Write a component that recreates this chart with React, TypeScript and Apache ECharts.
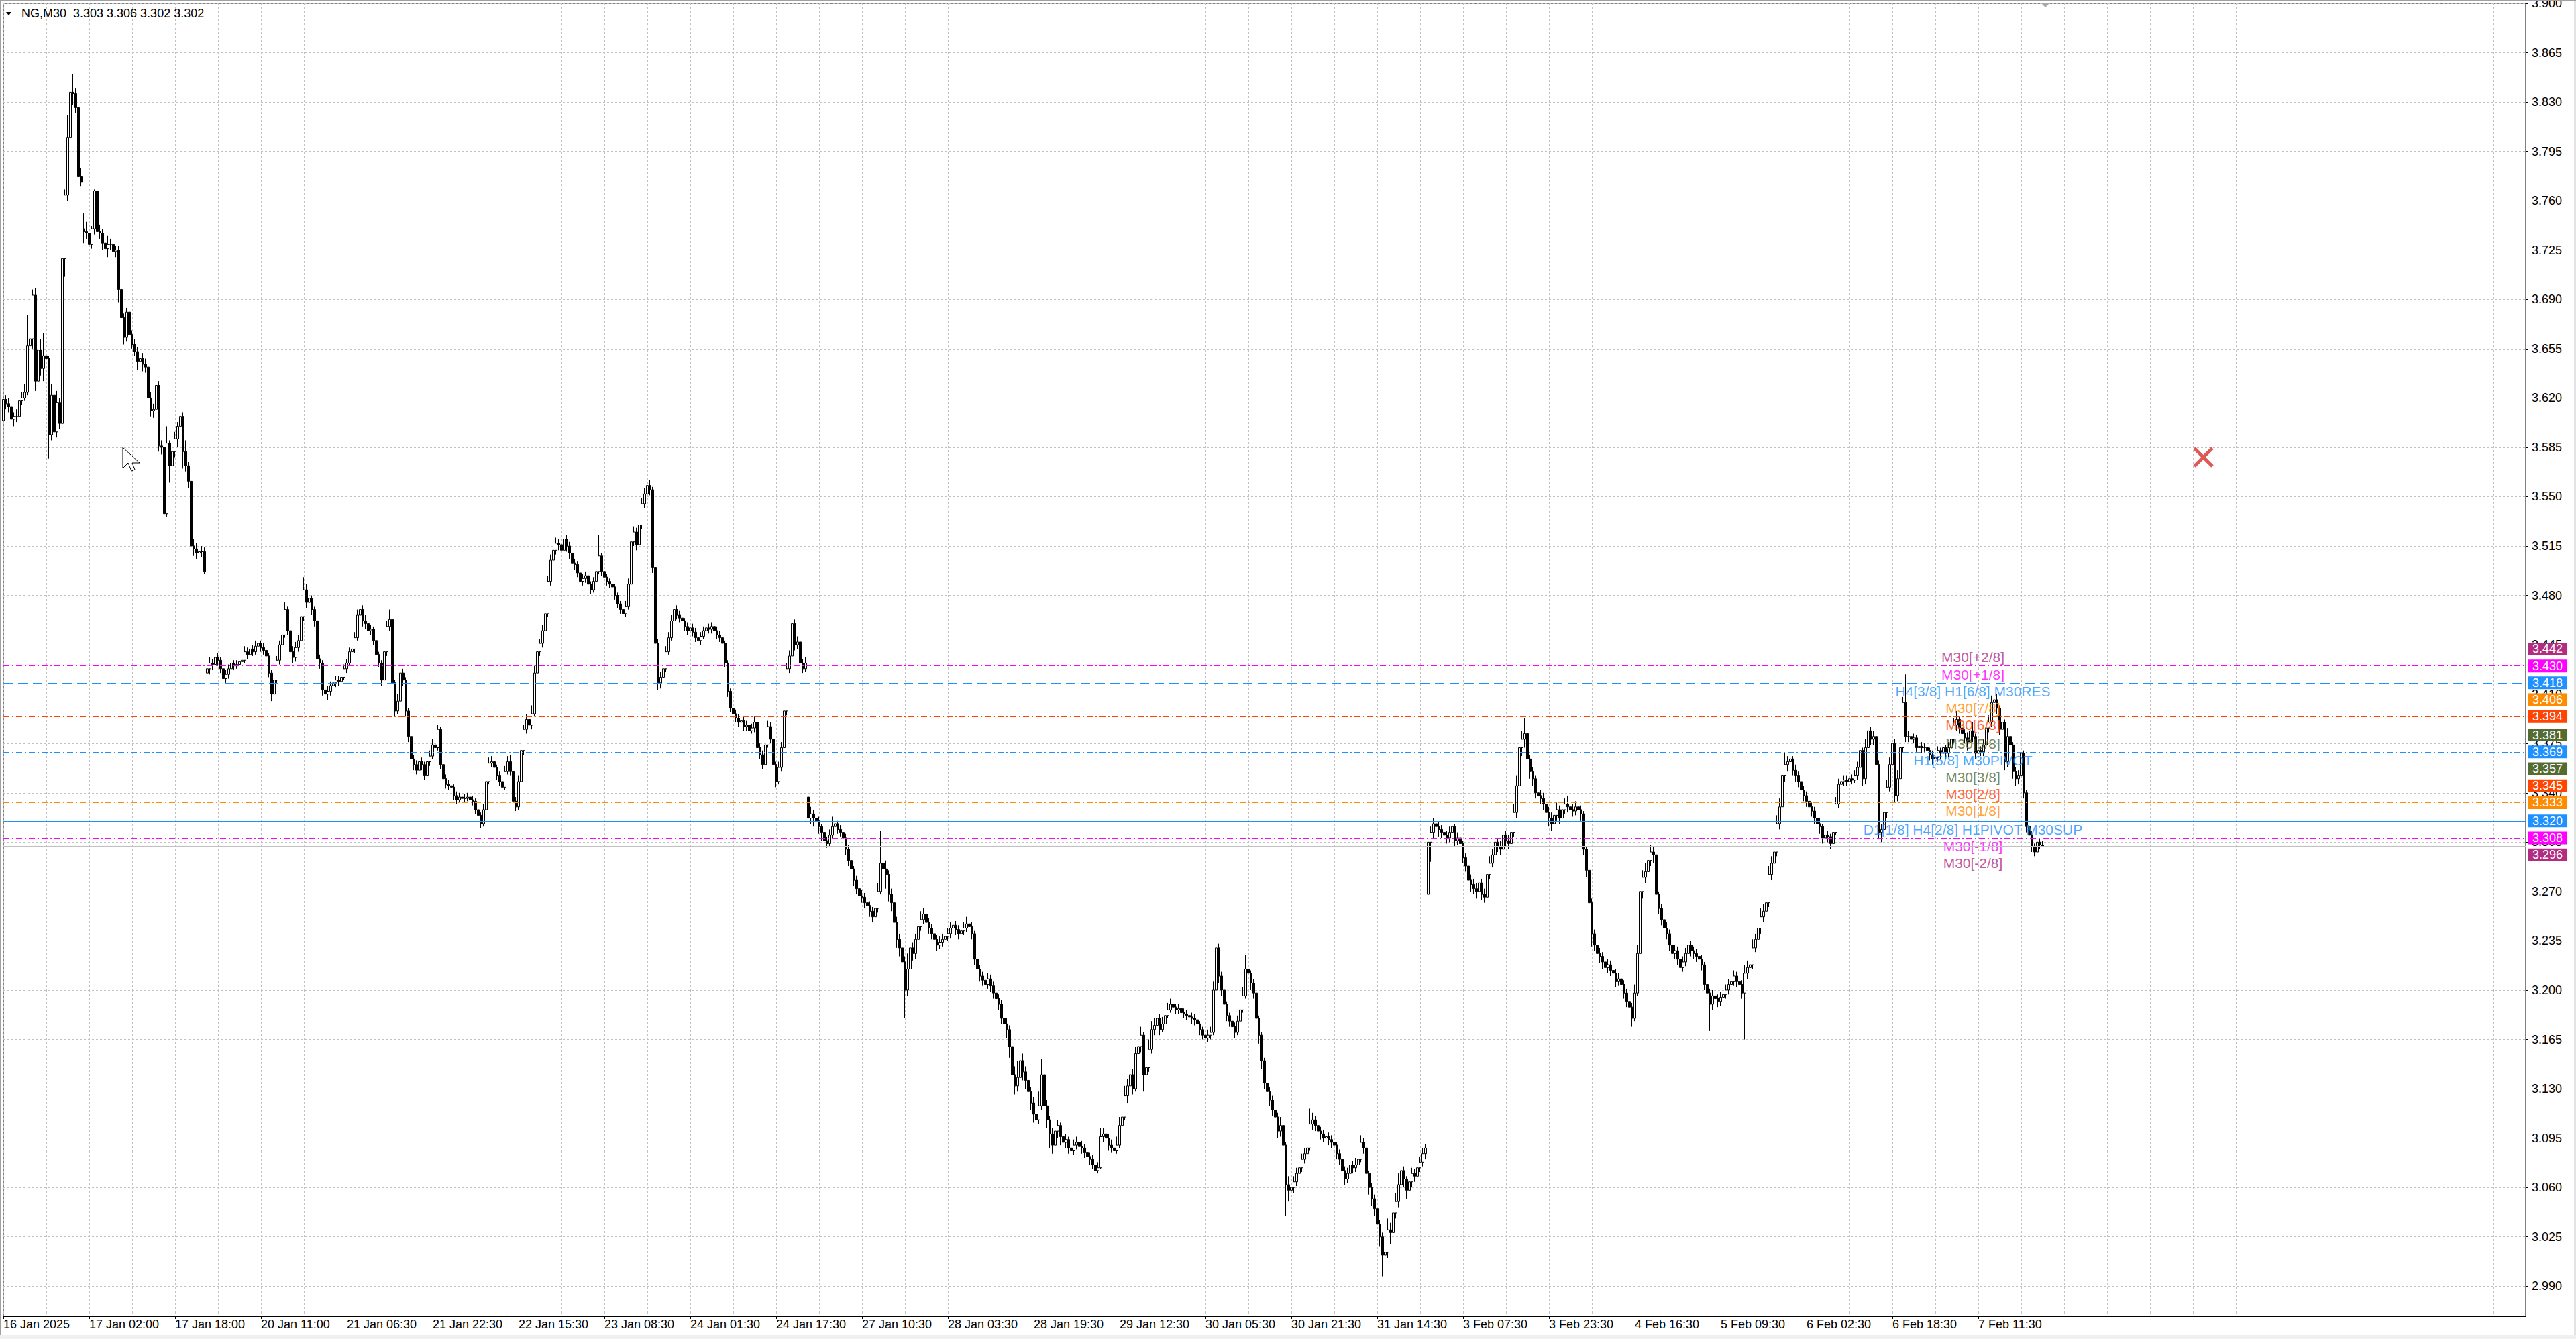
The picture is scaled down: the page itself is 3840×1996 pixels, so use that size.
import React, { useEffect, useRef } from 'react';
import * as echarts from 'echarts';

const FONT = '"Liberation Sans", Arial, sans-serif';

// ---------- header ----------
const headerSymbol = 'NG,M30';
const headerOHLC = [3.303, 3.306, 3.302, 3.302];

// ---------- axis texts ----------
const tickLabels = [
  '16 Jan 2025', '17 Jan 02:00', '17 Jan 18:00', '20 Jan 11:00', '21 Jan 06:30', '21 Jan 22:30',
  '22 Jan 15:30', '23 Jan 08:30', '24 Jan 01:30', '24 Jan 17:30', '27 Jan 10:30', '28 Jan 03:30',
  '28 Jan 19:30', '29 Jan 12:30', '30 Jan 05:30', '30 Jan 21:30', '31 Jan 14:30', '3 Feb 07:30',
  '3 Feb 23:30', '4 Feb 16:30', '5 Feb 09:30', '6 Feb 02:30', '6 Feb 18:30', '7 Feb 11:30',
];
const barsPerLabel = 32;
const barsPerGrid = 16;
const totalSlots = 941;

const yTicks = [
  2.990, 3.025, 3.060, 3.095, 3.130, 3.165, 3.200, 3.235, 3.270, 3.305, 3.340, 3.375, 3.410, 3.445,
  3.480, 3.515, 3.550, 3.585, 3.620, 3.655, 3.690, 3.725, 3.760, 3.795, 3.830, 3.865, 3.900,
];
const yMin = 2.9687;
const yMax = 3.9;

// ---------- Murrey levels ----------
const levelPrices = [3.442, 3.430, 3.418, 3.406, 3.394, 3.381, 3.369, 3.357, 3.345, 3.333, 3.320, 3.308, 3.296];
const levelNames = [
  'M30[+2/8]', 'M30[+1/8]', 'H4[3/8] H1[6/8] M30RES', 'M30[7/8]', 'M30[6/8]', 'M30[5/8]',
  'H1[5/8] M30PIVOT', 'M30[3/8]', 'M30[2/8]', 'M30[1/8]', 'D1[1/8] H4[2/8] H1PIVOT M30SUP',
  'M30[-1/8]', 'M30[-2/8]',
];
const levelColors = [
  '#B22C80', '#FF00FF', '#1E90FF', '#FF8C00', '#FF4500', '#556B2F', '#1E90FF',
  '#556B2F', '#FF4500', '#FF8C00', '#1E90FF', '#FF00FF', '#B22C80',
];
const levelStyles = [
  'dashdot', 'dashdot', 'dash', 'dashdot', 'dashdot', 'dashdot', 'dashdot',
  'dashdot', 'dashdot', 'dashdot', 'solid', 'dashdot', 'dashdot',
];
const levelLabelBar = 734;
const bidPrice = 3.302;

// ---------- candles (thousandths above 3.000) ----------
// first open of each session / gap bar: [barIndex, open]
const gapOpens = [[0, 604], [30, 740], [76, 425], [300, 337], [531, 268]];

const close1 = [
  619,616,614,605,607,607,618,620,624,657,
  662,693,632,654,641,650,648,594,622,596,
  617,602,719,764,805,837,836,826,777,773,
  738,737,729,740,767,738,737,730,726,729,
  729,724,725,697,677,663,681,665,658,653,
  646,648,644,642,620,611,612,629,586,585,
  538,588,572,582,591,600,607,582,572,561,
  515,513,510,511,511,497,
];
const high1 = [
  622,622,620,616,610,612,622,624,630,679,
  670,697,698,665,662,666,654,650,630,626,
  625,620,722,768,821,843,850,840,832,783,
  751,745,740,742,768,769,743,740,733,735,
  733,733,728,728,700,680,684,683,668,662,
  656,652,652,648,644,624,616,657,632,590,
  588,600,590,597,596,603,627,610,590,575,
  563,520,517,516,515,514,
];
const low1 = [
  600,612,610,602,600,603,605,615,618,622,
  650,655,625,628,636,632,640,577,590,592,
  592,598,600,706,760,797,828,822,774,770,
  730,733,726,726,736,735,733,725,722,720,
  725,720,720,688,672,658,660,660,655,650,
  640,643,639,638,615,607,606,608,582,580,
  532,536,560,570,578,585,596,570,568,556,
  510,508,506,506,507,495,
];

const close2 = [
  428,432,431,436,434,428,421,424,428,432,
  430,431,433,434,440,438,442,440,444,446,
  443,441,437,425,410,420,434,445,452,470,
  455,440,436,443,448,465,484,475,478,470,
  462,435,432,413,410,412,416,418,420,419,
  422,428,432,440,442,450,466,470,462,460,
  455,456,448,438,432,420,440,458,463,418,
  398,405,425,420,398,380,364,360,356,362,
  360,352,362,366,374,372,385,360,350,346,
  345,344,338,335,337,336,336,337,335,334,
  328,324,318,328,348,361,362,358,352,348,
  344,355,362,355,334,330,348,370,385,392,
  388,396,425,440,446,455,467,490,505,512,
  517,516,512,520,515,510,503,502,496,490,
  492,494,488,484,490,497,508,497,493,490,
  488,486,480,474,470,467,472,488,518,525,
  516,530,545,552,558,555,500,446,418,422,
  428,440,450,462,470,466,464,462,458,455,
  457,454,450,448,451,455,457,456,458,455,
  452,450,446,432,412,400,396,393,390,391,
  387,388,384,386,390,372,367,360,374,387,
  378,360,348,358,372,398,428,437,460,445,
  447,432,428,432,
];
const high2 = [
  432,436,435,440,439,436,430,427,431,435,
  434,434,437,438,444,443,446,445,448,450,
  448,446,443,439,427,424,437,448,456,475,
  472,457,444,447,452,470,493,488,482,480,
  472,464,438,434,416,416,419,421,423,423,
  425,431,435,443,446,454,470,476,473,466,
  463,459,458,450,440,434,444,462,470,465,
  420,410,430,428,422,400,382,367,363,366,
  365,362,365,370,378,377,388,387,362,353,
  349,348,346,341,340,339,339,340,339,338,
  336,331,326,332,352,365,366,364,360,355,
  351,359,366,367,357,337,352,374,388,396,
  395,402,430,444,449,459,471,494,509,516,
  521,520,519,525,523,518,512,506,504,498,
  495,497,496,490,493,500,523,510,499,495,
  492,490,488,482,476,472,476,492,522,529,
  528,534,549,556,578,562,557,503,449,426,
  432,444,454,466,474,473,469,467,464,461,
  460,460,457,453,454,458,460,460,461,461,
  458,455,452,448,434,414,403,399,396,394,
  394,391,391,389,394,392,375,370,378,391,
  390,380,362,362,376,402,432,441,468,463,
  451,449,435,436,
];
const low2 = [
  394,424,427,429,430,425,418,418,421,426,
  427,428,428,430,432,435,436,437,438,441,
  440,438,434,422,405,408,418,431,442,450,
  452,436,432,433,440,445,462,471,472,466,
  458,432,428,409,405,406,409,413,415,416,
  416,420,425,430,437,439,448,462,458,456,
  452,452,445,435,429,416,418,437,455,414,
  394,396,402,416,394,376,360,356,353,354,
  356,349,350,359,364,368,370,357,347,343,
  342,341,335,332,333,333,333,334,332,331,
  325,320,315,316,326,346,358,355,349,345,
  341,342,353,352,331,327,328,346,367,382,
  384,385,394,422,437,443,452,465,487,502,
  509,512,508,510,511,506,500,498,493,487,
  487,489,485,481,482,488,495,494,490,487,
  485,483,477,471,467,464,465,470,486,515,
  512,513,527,542,549,551,496,442,413,414,
  419,426,438,448,460,463,461,459,455,452,
  452,451,447,444,445,449,452,453,453,451,
  449,447,443,429,408,397,393,390,387,387,
  384,384,381,382,383,369,364,357,358,372,
  375,357,344,346,355,370,395,425,435,441,
  442,429,425,426,
];

const close3 = [
  322,325,322,320,316,312,306,304,310,316,
  318,314,312,308,300,292,286,278,272,267,
  266,262,260,256,252,258,270,290,286,282,
  268,262,248,236,230,220,200,215,230,226,
  236,245,250,254,248,244,240,236,232,234,
  236,238,240,244,246,243,240,242,244,247,
  245,240,222,215,210,207,204,208,203,198,
  194,190,180,176,172,160,140,132,138,150,
  142,136,128,120,112,108,118,140,118,108,
  98,90,100,104,96,92,94,88,86,90,
  92,89,88,85,82,80,76,72,74,96,
  98,95,90,88,86,90,104,110,125,132,
  140,130,155,160,168,140,145,158,172,175,
  180,172,176,182,186,190,188,186,187,184,
  183,182,181,180,179,176,172,168,166,168,
  170,200,230,210,200,190,182,178,174,170,
  178,186,196,215,212,205,198,180,168,150,
  134,128,122,115,110,100,104,90,62,58,
  60,64,70,74,80,84,88,105,108,104,
  100,98,95,96,94,92,90,84,80,72,
  66,70,76,74,76,80,92,88,70,60,
  52,45,34,25,12,14,30,28,42,50,
  62,72,66,58,64,70,68,74,78,84,
  88,
];
const high3 = [
  342,330,328,326,323,318,314,309,314,323,
  322,320,317,314,311,303,294,288,281,275,
  271,269,265,263,259,262,276,313,305,292,
  285,272,265,252,240,234,224,226,237,234,
  240,249,256,258,257,251,247,243,239,238,
  240,242,244,248,250,249,246,246,248,252,
  255,248,242,225,218,213,211,212,211,206,
  201,197,193,184,180,175,164,146,150,158,
  155,146,140,131,124,116,128,151,142,122,
  111,102,108,108,106,100,98,96,92,94,
  96,95,93,91,88,85,83,79,78,102,
  102,101,98,94,92,96,110,116,132,137,
  148,144,160,166,174,170,151,165,178,180,
  186,183,181,186,191,194,192,190,190,189,
  187,186,185,184,183,181,178,174,171,172,
  174,206,242,233,213,203,192,184,180,177,
  182,190,202,225,219,214,208,200,182,170,
  152,137,131,125,118,113,110,106,92,68,
  65,68,74,78,84,88,92,116,113,111,
  107,103,101,100,99,97,95,92,87,82,
  75,74,80,79,81,85,97,95,90,72,
  63,55,47,37,28,22,38,35,50,56,
  70,80,75,68,70,74,73,78,82,88,
  91,
];
const low3 = [
  300,318,316,314,311,306,302,301,302,308,
  312,311,309,304,296,288,282,274,268,263,
  262,258,256,252,248,249,255,268,280,272,
  263,256,244,230,224,210,180,196,212,221,
  222,233,242,247,244,240,236,232,228,229,
  231,233,235,237,241,239,236,237,239,241,
  241,236,218,211,206,203,200,201,199,194,
  190,186,176,172,166,152,125,126,128,134,
  136,130,124,115,106,104,105,115,112,102,
  88,84,87,95,90,88,88,84,82,83,
  87,85,84,81,78,76,73,70,70,73,
  92,90,86,85,82,84,88,100,108,120,
  128,126,128,150,156,128,136,142,155,168,
  171,168,170,174,180,184,185,183,183,181,
  180,179,178,176,175,172,168,165,163,163,
  165,168,197,205,196,186,178,174,170,166,
  168,176,184,194,206,200,194,175,162,144,
  130,124,118,111,105,95,96,85,40,50,
  54,56,61,66,71,77,80,86,101,100,
  96,94,92,92,90,88,86,80,76,66,
  62,63,67,70,71,73,78,84,66,55,
  47,40,28,18,-3,4,10,20,25,38,
  46,58,60,52,54,60,64,65,71,75,
  80,
];

const close4 = [
  305,312,318,316,314,312,310,308,312,316,
  306,308,304,294,288,278,275,272,270,276,
  268,266,282,290,296,305,302,300,310,306,
  304,312,326,345,372,378,382,364,355,350,
  340,338,336,332,326,322,318,324,328,322,
  328,332,330,328,327,330,328,325,300,285,
  262,240,232,226,224,220,216,218,214,212,
  206,208,204,198,192,188,180,198,226,270,
  280,284,292,298,296,268,258,250,244,240,
  232,226,228,222,216,220,226,232,228,226,
  224,222,218,204,198,190,196,194,192,195,
  197,200,204,206,210,206,204,198,212,216,
  218,230,236,244,252,256,262,282,290,298,
  318,330,352,360,362,364,356,352,348,342,
  338,334,330,327,322,318,316,308,310,309,
  304,312,332,346,348,349,348,350,349,352,
  358,370,350,372,384,378,380,360,312,314,
  326,344,360,375,338,350,372,404,380,380,
  378,379,372,373,372,372,370,367,364,365,
  370,368,372,368,372,378,388,392,386,382,
  379,376,384,380,368,370,369,374,386,390,
  404,406,400,385,390,362,380,374,355,350,
  352,368,340,316,310,302,298,305,303,302,
];
const high4 = [
  318,316,322,321,319,317,315,313,316,321,
  318,312,311,306,297,290,282,279,276,280,
  279,272,287,295,300,310,308,306,316,313,
  310,318,332,352,378,384,393,385,367,358,
  352,344,342,340,335,330,326,328,333,331,
  332,336,338,333,332,334,333,331,327,302,
  288,265,243,236,230,227,224,222,221,218,
  215,212,211,207,201,195,191,204,232,276,
  285,290,311,303,302,298,270,261,253,248,
  243,235,232,231,225,224,230,236,235,231,
  229,227,225,220,207,201,200,199,197,199,
  201,204,208,210,214,213,209,207,218,221,
  222,236,240,250,258,261,268,288,295,304,
  324,336,358,368,366,368,366,360,355,350,
  345,341,337,333,330,325,322,318,314,313,
  311,316,337,350,352,352,352,354,353,356,
  362,376,372,378,394,387,384,383,363,318,
  331,349,365,380,378,356,376,408,424,384,
  382,382,381,376,376,375,374,372,370,368,
  373,372,376,374,376,382,393,398,394,389,
  385,383,392,390,382,374,373,378,390,395,
  409,425,410,402,395,392,386,382,376,358,
  356,373,370,342,319,313,304,308,308,306,
];
const low4 = [
  252,291,308,312,309,308,306,304,305,309,
  302,303,300,290,284,273,270,268,265,267,
  264,262,264,279,287,293,298,296,298,302,
  300,300,309,322,342,366,372,360,350,345,
  336,333,332,328,321,316,313,315,320,318,
  320,325,326,324,323,324,324,320,296,280,
  251,231,228,222,219,215,211,212,210,208,
  202,203,200,194,188,171,174,178,196,224,
  265,276,280,288,290,262,254,246,240,236,
  228,221,222,218,211,213,217,223,224,222,
  220,218,214,200,193,171,186,190,188,189,
  192,194,197,201,203,202,200,194,165,208,
  212,215,227,232,240,248,252,259,278,286,
  295,314,327,348,355,358,352,348,344,338,
  334,330,326,323,318,314,311,304,305,305,
  300,302,310,329,343,345,345,345,346,347,
  349,346,345,346,358,374,374,356,307,305,
  311,322,341,334,333,334,346,368,376,376,
  375,375,369,369,368,369,366,363,360,361,
  362,364,365,364,365,369,375,384,382,378,
  375,370,370,376,364,365,366,366,372,383,
  387,400,396,381,382,356,358,370,350,345,
  346,349,336,312,306,298,295,296,300,302,
];

function toPrice(v: number) {
  return +(3 + v / 1000).toFixed(3);
}

function buildCandles() {
  const closes = [...close1, ...close2, ...close3, ...close4];
  const highs = [...high1, ...high2, ...high3, ...high4];
  const lows = [...low1, ...low2, ...low3, ...low4];
  const gaps = new Map<number, number>(gapOpens.map((g) => [g[0], g[1]] as [number, number]));
  const out: number[][] = [];
  for (let i = 0; i < closes.length; i++) {
    const o = gaps.has(i) ? (gaps.get(i) as number) : closes[i - 1];
    out.push([toPrice(o), toPrice(closes[i]), toPrice(lows[i]), toPrice(highs[i])]);
  }
  return out;
}

function dashFor(style: string): any {
  if (style === 'dash') return [14, 8];
  if (style === 'dashdot') return [9, 4, 2, 4];
  return 'solid';
}

export default function App() {
  const ref = useRef<HTMLDivElement>(null);

  useEffect(() => {
    document.body.style.margin = '0';
    const el = ref.current as HTMLDivElement;
    const chart = echarts.init(el, null, { renderer: 'svg' });

    const categories = Array.from({ length: totalSlots }, (_, i) => String(i));
    const candles = buildCandles();
    const lastLabelIdx = (tickLabels.length - 1) * barsPerLabel;
    const isLabelIdx = (i: number) => i % barsPerLabel === 0 && i <= lastLabelIdx;

    const markLineData: any[] = levelPrices.map((p, k) => ({
      yAxis: p,
      lineStyle: { color: levelColors[k], type: dashFor(levelStyles[k]), width: 1 },
      label: {
        show: true,
        position: 'end',
        distance: 3,
        formatter: p.toFixed(3),
        backgroundColor: levelColors[k],
        color: '#FFFFFF',
        padding: [1, 7, 0, 7],
        fontSize: 18,
        lineHeight: 18,
        fontFamily: FONT,
      },
    }));
    markLineData.push({
      yAxis: bidPrice,
      lineStyle: { color: '#C0C0C0', type: 'solid', width: 1 },
      label: { show: false },
    });

    const header = `${headerSymbol}  ${headerOHLC.map((v) => v.toFixed(3)).join(' ')}`;

    const option: any = {
      animation: false,
      backgroundColor: '#FFFFFF',
      grid: {
        left: 5,
        top: 5,
        width: 3760,
        height: 1957,
        show: true,
        borderColor: '#000000',
        borderWidth: 1,
        backgroundColor: 'transparent',
        containLabel: false,
        outerBoundsMode: 'none',
      },
      xAxis: {
        type: 'category',
        data: categories,
        boundaryGap: false,
        axisLine: { show: true, lineStyle: { color: '#000000', width: 1 } },
        axisTick: {
          show: true,
          interval: (i: number) => isLabelIdx(i),
          length: 4,
          lineStyle: { color: '#000000' },
        },
        axisLabel: {
          show: true,
          interval: (i: number) => isLabelIdx(i),
          formatter: (_v: string, i: number) => (isLabelIdx(i) ? tickLabels[i / barsPerLabel] : ''),
          align: 'left',
          fontSize: 18,
          fontFamily: FONT,
          color: '#000000',
          margin: 3,
        },
        splitLine: {
          show: true,
          interval: (i: number) => i % barsPerGrid === 0,
          lineStyle: { color: '#C0C0C0', type: [3, 3], width: 1 },
        },
      },
      yAxis: {
        type: 'value',
        position: 'right',
        min: yMin,
        max: yMax,
        scale: true,
        axisLine: { show: true, lineStyle: { color: '#000000', width: 1 } },
        axisTick: { show: true, customValues: yTicks, length: 3, lineStyle: { color: '#000000' } },
        axisLabel: {
          show: true,
          customValues: yTicks,
          formatter: (v: number) => v.toFixed(3),
          fontSize: 18,
          fontFamily: FONT,
          color: '#000000',
          margin: 9,
        },
        splitLine: { show: true, lineStyle: { color: '#C0C0C0', type: [3, 3], width: 1 } },
      },
      series: [
        {
          type: 'candlestick',
          data: candles,
          barWidth: 3,
          large: false,
          silent: true,
          clip: true,
          itemStyle: {
            color: '#FFFFFF',
            color0: '#000000',
            borderColor: '#000000',
            borderColor0: '#000000',
            borderWidth: 1,
          },
          markLine: {
            silent: true,
            symbol: ['none', 'none'],
            animation: false,
            precision: 3,
            data: markLineData,
          },
          z: 2,
        },
        {
          type: 'scatter',
          silent: true,
          symbolSize: 0,
          z: 4,
          data: levelPrices.map((p, k) => ({
            value: [levelLabelBar, p],
            label: { formatter: levelNames[k], color: levelColors[k] },
          })),
          label: {
            show: true,
            position: 'bottom',
            distance: 2,
            fontSize: 21,
            fontFamily: FONT,
          },
        },
      ],
      graphic: [
        { type: 'rect', z: 0, shape: { x: 0, y: 1990, width: 3840, height: 6 }, style: { fill: '#F0F0F0' } },
        { type: 'line', z: 100, shape: { x1: 0.5, y1: 0, x2: 0.5, y2: 1990 }, style: { stroke: '#A0A0A0', lineWidth: 1 } },
        { type: 'line', z: 100, shape: { x1: 3838.5, y1: 0, x2: 3838.5, y2: 1990 }, style: { stroke: '#C8C8C8', lineWidth: 2 } },
        { type: 'line', z: 100, shape: { x1: 0, y1: 0.5, x2: 3840, y2: 0.5 }, style: { stroke: '#A0A0A0', lineWidth: 1 } },
        { type: 'polygon', z: 100, shape: { points: [[9, 18], [17, 18], [13, 23]] }, style: { fill: '#000000' } },
        {
          type: 'text', z: 100, x: 32, y: 20,
          style: { text: header, fill: '#000000', fontSize: 18, fontFamily: FONT, verticalAlign: 'middle' },
        },
        { type: 'polygon', z: 100, shape: { points: [[3043, 5], [3055, 5], [3049, 11]] }, style: { fill: '#A8A8A8' } },
        { type: 'line', z: 100, shape: { x1: 3271, y1: 668, x2: 3298, y2: 695 }, style: { stroke: '#DC5A52', lineWidth: 5 } },
        { type: 'line', z: 100, shape: { x1: 3298, y1: 668, x2: 3271, y2: 695 }, style: { stroke: '#DC5A52', lineWidth: 5 } },
        {
          type: 'polygon', z: 100,
          shape: { points: [[183, 667], [183, 698], [191, 690], [196, 702], [201, 700], [197, 690], [208, 690]] },
          style: { fill: '#FFFFFF', stroke: '#000000', lineWidth: 1 },
        },
      ],
    };

    chart.setOption(option);
    return () => chart.dispose();
  }, []);

  return <div ref={ref} style={{ width: 3840, height: 1996, background: '#FFFFFF' }} />;
}
